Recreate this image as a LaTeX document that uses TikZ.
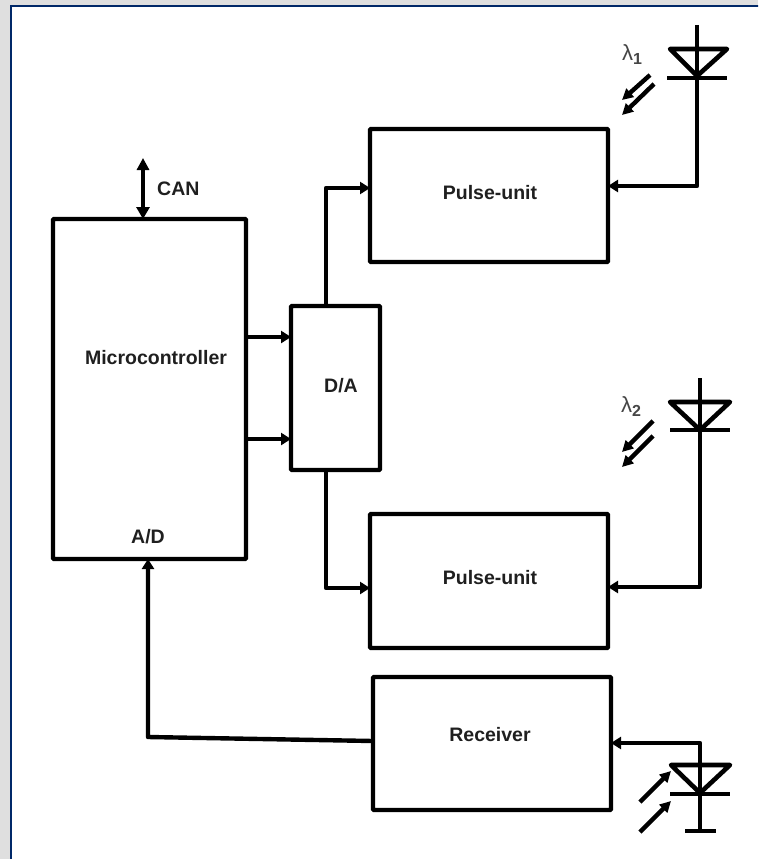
\documentclass[tikz,border=0pt]{standalone}
\usepackage{fontspec}
\setmainfont{Liberation Sans}
\usetikzlibrary{arrows.meta,calc}
\definecolor{pagegrey}{RGB}{223,223,223}
\definecolor{framenavy}{RGB}{0,40,104}
\definecolor{inkblack}{RGB}{0,0,0}
\definecolor{lamgrey}{RGB}{70,70,70}
\tikzset{
  blk/.style={draw=inkblack,line width=4.4pt,rounded corners=1pt,minimum width=#1,inner sep=0pt,outer sep=0pt},
  lbl/.style={font=\fontsize{19.5}{21}\selectfont\bfseries,text=black!88,inner sep=0pt},
  lam/.style={text=lamgrey,inner sep=0pt},
  wire/.style={draw=inkblack,line width=4.4pt,line join=round},
  arrowwire/.style={wire,-{Triangle[length=10pt,width=12pt]}},
  canwire/.style={draw=inkblack,line width=3.2pt,{Triangle[length=12pt,width=12pt]}-{Triangle[length=12pt,width=13pt]}},
  photon/.style={draw=inkblack,line width=4.4pt,-{Triangle[length=11pt,width=11pt]}},
  diode/.style={draw=inkblack,line width=4.6pt,line join=round},
}
\begin{document}
\begin{tikzpicture}[x=1pt,y=-1pt]
\useasboundingbox (0,0) rectangle (758,859);
\clip (0,0) rectangle (758,859);
\fill[pagegrey] (0,0) rectangle (758,859);
\draw[framenavy,line width=2.6pt,fill=white] (11,6) rectangle (800,900);

% blocks
\node[blk=193pt,minimum height=340pt] (micro) at (149.5,389) {};
\node[blk=89pt,minimum height=164pt] (da) at (335.5,388) {};
\node[blk=238pt,minimum height=133pt] (pulseA) at (489,195.5) {};
\node[blk=238pt,minimum height=134pt] (pulseB) at (489,581) {};
\node[blk=238pt,minimum height=133pt] (recv) at (492,743.5) {};

% labels
\node[lbl] (microtxt) at (156,358) {Microcontroller};
\node[lbl] (adtxt) at (148,537) {A/D};
\node[lbl] (datxt) at (341,386) {D/A};
\node[lbl] (pulseAtxt) at (490,193) {Pulse-unit};
\node[lbl] (pulseBtxt) at (490,578) {Pulse-unit};
\node[lbl] (recvtxt) at (490,735) {Receiver};
\node[lbl,anchor=west] (cantxt) at (157,189) {CAN};
\node[lam] (lamA) at (632,55) {\fontsize{22}{22}\selectfont λ\raisebox{-4pt}{\fontsize{16}{16}\selectfont\bfseries 1}};
\node[lam] (lamB) at (631,407) {\fontsize{22}{22}\selectfont λ\raisebox{-4pt}{\fontsize{16}{16}\selectfont\bfseries 2}};

% named free ends and junctions
\coordinate (canTop) at (143,158);
\coordinate (canBot) at (143,219);
\coordinate (dA1) at (697,25);
\coordinate (dAk) at (697,186);
\coordinate (dB1) at (700,378);
\coordinate (dBk) at (700,587);
\coordinate (dC1) at (700,743);
\coordinate (dC2) at (700,831);

% connectors
\draw[canwire] (canTop) -- (canBot);
\draw[arrowwire] (micro.east |- 0,337) -- (da.west |- 0,337);
\draw[arrowwire] (micro.east |- 0,439) -- (da.west |- 0,439);
\draw[arrowwire] (326,306) -- (326,188) -- (pulseA.west |- 0,188);
\draw[arrowwire] (326,470) -- (326,588) -- (pulseB.west |- 0,588);
\draw[arrowwire] (recv.west |- 0,741) -- (148,737) -- (micro.south -| 148,0);
\draw[arrowwire] (dA1) -- (dAk) -- (pulseA.east |- dAk);
\draw[arrowwire] (dB1) -- (dBk) -- (pulseB.east |- dBk);
\draw[arrowwire] (dC2) -- (dC1) -- (recv.east |- dC1);

% diode 1
\draw[diode] (670,49) -- (727,49) -- (697,76) -- cycle;
\draw[diode] (667,78) -- (727,78);
% diode 2
\draw[diode] (670,402) -- (730,402) -- (700,430) -- cycle;
\draw[diode] (670,430) -- (730,430);
% diode 3
\draw[diode] (671,765) -- (730,765) -- (700,793) -- cycle;
\draw[diode] (670,794) -- (730,794);
\draw[diode] (685,831) -- (716,831);

% light arrows
\draw[photon] (650,75) -- (622,100);
\draw[photon] (654,84) -- (622,115);
\draw[photon] (653,421) -- (622,452);
\draw[photon] (653,436) -- (622,467);
\draw[photon] (640,802) -- (671,771);
\draw[photon] (640,832) -- (671,801);
\end{tikzpicture}
\end{document}
